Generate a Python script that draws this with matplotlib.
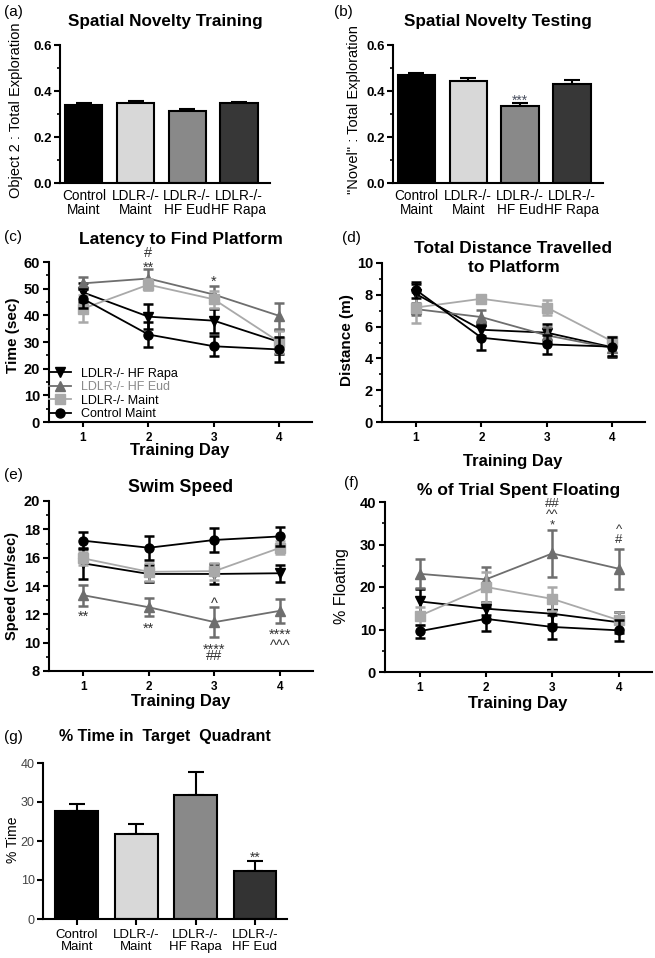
import numpy as np
import matplotlib
matplotlib.use('Agg')
import matplotlib.pyplot as plt
from matplotlib.ticker import MultipleLocator, FormatStrFormatter
from matplotlib.transforms import IdentityTransform

plt.rcParams['font.family'] = ['Liberation Sans', 'DejaVu Sans']

W, H = 655, 958  # размер картинки в пикселях (dpi=100)

# --- данные: (a), (b) ---
groups_ab = ['Control\nMaint', 'LDLR-/-\nMaint', 'LDLR-/-\nHF Eud', 'LDLR-/-\nHF Rapa']
colors_ab = ['#000000', '#d8d8d8', '#898989', '#373737']
train_mean = [0.341, 0.348, 0.315, 0.348]
train_sem = [0.007, 0.007, 0.007, 0.006]
test_mean = [0.470, 0.442, 0.336, 0.432]
test_sem = [0.010, 0.016, 0.011, 0.016]

# --- данные: (c)-(f), порядок серий: Rapa, Eud, Maint, Control ---
days = [1, 2, 3, 4]
series = ['LDLR-/- HF Rapa', 'LDLR-/- HF Eud', 'LDLR-/- Maint', 'Control Maint']
markers = ['v', '^', 's', 'o']
line_colors = ['#000000', '#6e6e6e', '#a9a9a9', '#000000']
legend_text_colors = ['#000000', '#8a8a8a', '#000000', '#000000']

lat_mean = [[48.6, 39.5, 38.0, 30.0], [52.0, 53.8, 47.8, 39.8],
            [42.5, 51.5, 46.0, 30.0], [46.2, 32.8, 28.4, 27.2]]
lat_sem = [[3.5, 4.8, 4.5, 4.5], [2.2, 3.4, 3.2, 4.8],
           [5.0, 2.0, 3.2, 4.0], [3.5, 4.8, 3.8, 4.8]]

dist_mean = [[8.05, 5.8, 5.62, 4.7], [7.1, 6.6, 5.45, 4.65],
             [7.2, 7.75, 7.2, 5.07], [8.3, 5.3, 4.88, 4.74]]
dist_sem = [[0.6, 0.4, 0.55, 0.6], [0.4, 0.45, 0.5, 0.5],
            [1.0, 0.15, 0.5, 0.3], [0.5, 0.8, 0.6, 0.6]]

speed_mean = [[15.6, 14.85, 14.85, 14.9], [13.35, 12.5, 11.45, 12.25],
              [15.95, 15.0, 15.05, 16.7], [17.2, 16.7, 17.25, 17.5]]
speed_sem = [[1.1, 0.6, 0.7, 0.6], [0.75, 0.65, 1.05, 0.85],
             [0.45, 0.65, 0.6, 0.45], [0.6, 0.85, 0.85, 0.65]]

float_mean = [[16.6, 14.9, 13.7, 11.7], [23.1, 21.8, 27.9, 24.3],
              [13.2, 20.0, 17.2, 12.2], [9.6, 12.5, 10.6, 9.8]]
float_sem = [[2.9, 1.6, 2.5, 2.5], [3.4, 2.8, 5.6, 4.7],
             [2.2, 3.5, 2.8, 2.0], [1.5, 2.9, 2.9, 2.5]]

# --- данные: (g) ---
groups_g = ['Control\nMaint', 'LDLR-/-\nMaint', 'LDLR-/-\nHF Rapa', 'LDLR-/-\nHF Eud']
colors_g = ['#000000', '#d8d8d8', '#898989', '#333333']
quad_mean = [27.7, 21.7, 31.7, 12.4]
quad_sem = [1.9, 2.6, 6.0, 2.5]

# значимость: (x, центры знаков по y сверху вниз, строки)
sig_b = [(2, [0.378], ['***'])]
sig_c = [(2, [63.8, 60.0], ['#', '**']), (3, [54.4], ['*'])]
sig_e = [(1, [12.15], ['**']), (2, [11.3], ['**']), (3, [13.0], ['^']),
         (3, [9.86, 9.2], ['****', '##']), (4, [10.9, 10.1], ['****', '^^^'])]
sig_f = [(3, [39.9, 37.7, 35.3], ['##', '^^', '*']), (4, [34.3, 31.2], ['^', '#'])]
sig_g = [(3, [16.9], ['**'])]

fig = plt.figure(figsize=(W / 100, H / 100), dpi=100)


def add_ax(l, t, r, b):
    ax = fig.add_axes([l / W, 1 - b / H, (r - l) / W, (b - t) / H])
    for s in ['top', 'right']:
        ax.spines[s].set_visible(False)
    for s in ['left', 'bottom']:
        ax.spines[s].set_linewidth(1.5)
    return ax


def panel_label(x, y, s):
    fig.text(x / W, 1 - y / H, s, fontsize=11, ha='left', va='center')


def ylab(ax, s, cx, cy, size, weight):
    ax.set_ylabel(s, fontsize=size, fontweight=weight)
    ax.yaxis.set_label_coords((cx + 0.57 * size * 1.39) / W, 1 - cy / H, transform=fig.transFigure)


def xlab(ax, s, cx, top, size=12):
    ax.set_xlabel(s, fontsize=size, fontweight='bold')
    ax.xaxis.set_label_coords(cx / W, 1 - top / H, transform=fig.transFigure)


# середина знака над базовой линией (в долях кегля)
glyph_mid = {'*': 0.58, '^': 0.52, '#': 0.35}


def sig(ax, items, size=10.5, color='#333333'):
    em = size * fig.dpi / 72
    for x, centers, lines in items:
        pts = [ax.transData.transform((x, y)) for y in centers]
        base = [p[1] - glyph_mid[l[0]] * em for p, l in zip(pts, lines)]
        ls = 1.2
        if len(lines) > 1:
            step = (base[0] - base[-1]) / (len(lines) - 1)
            ls = (step / em - 0.21) / 0.72
        ax.text(pts[0][0], base[0] + 0.72 * em, '\n'.join(lines), transform=IdentityTransform(),
                fontsize=size, ha='center', va='top', linespacing=ls, color=color, clip_on=False)


def bar_panel(ax, groups, means, sems, colors, xlim, size):
    x = np.arange(len(groups))
    ax.bar(x, means, width=0.72, color=colors, edgecolor='black', linewidth=1.5, zorder=2)
    ax.errorbar(x, means, yerr=[np.zeros(len(sems)), sems], fmt='none', ecolor='black',
                elinewidth=1.5, capsize=5.5, capthick=1.5, zorder=1)
    ax.set_xlim(*xlim)
    ax.set_xticks(x)
    ax.set_xticklabels(groups, fontsize=size, linespacing=1.0)


def line_panel(ax, means, sems, ylim, major, minor):
    lines = []
    for i in range(4):
        c = ax.errorbar(days, means[i], yerr=sems[i], marker=markers[i], color=line_colors[i],
                        ms=6.5, lw=1.3, elinewidth=1.8, capsize=3.5, capthick=1.8,
                        zorder=3 + i, clip_on=False)
        lines.append(c.lines[0])
    ax.set_xlim(0.48, 4.5)
    ax.set_ylim(*ylim)
    ax.set_xticks(days)
    ax.yaxis.set_major_locator(MultipleLocator(major))
    ax.yaxis.set_minor_locator(MultipleLocator(minor))
    ax.tick_params(axis='y', which='major', length=4.5, width=1.5, pad=2, labelsize=10.5)
    ax.tick_params(axis='y', which='minor', length=2.5, width=1.2)
    ax.tick_params(axis='x', length=3.5, width=1.5, pad=4, labelsize=8.5)
    for lab in ax.get_xticklabels() + ax.get_yticklabels():
        lab.set_fontweight('bold')
    return lines


def ratio_axis(ax):
    ax.set_ylim(0, 0.6)
    ax.yaxis.set_major_locator(MultipleLocator(0.2))
    ax.yaxis.set_minor_locator(MultipleLocator(0.1))
    ax.yaxis.set_major_formatter(FormatStrFormatter('%.1f'))
    ax.tick_params(axis='x', length=0, pad=4)
    ax.tick_params(axis='y', which='major', length=4, width=1.5, pad=2, labelsize=9.5)
    ax.tick_params(axis='y', which='minor', length=2.5, width=1.2)
    for lab in ax.get_yticklabels():
        lab.set_fontweight('bold')


# (a) Spatial Novelty Training
ax_a = add_ax(60, 45, 270, 183)
bar_panel(ax_a, groups_ab, train_mean, train_sem, colors_ab, (-0.46, 3.6), 9.8)
ratio_axis(ax_a)
ax_a.set_title('Spatial Novelty Training', fontsize=12.3, fontweight='bold', pad=14)
ylab(ax_a, 'Object 2 : Total Exploration', 15, 110, 10.5, 'normal')
panel_label(4, 12, '(a)')

# (b) Spatial Novelty Testing
ax_b = add_ax(393, 45, 603, 183)
bar_panel(ax_b, groups_ab, test_mean, test_sem, colors_ab, (-0.45, 3.6), 9.8)
ratio_axis(ax_b)
ax_b.set_title('Spatial Novelty Testing', fontsize=12.3, fontweight='bold', pad=14)
ylab(ax_b, '"Novel" : Total Exploration', 353, 110, 10.5, 'normal')
sig(ax_b, sig_b, size=10, color='#4a5060')
panel_label(334, 12, '(b)')

# (c) Latency to Find Platform
ax_c = add_ax(49, 262, 312, 422)
lines_c = line_panel(ax_c, lat_mean, lat_sem, (0, 60), 10, 5)
ax_c.set_title('Latency to Find Platform', fontsize=12.5, fontweight='bold', pad=13)
ylab(ax_c, 'Time (sec)', 11, 335, 11, 'bold')
xlab(ax_c, 'Training Day', 180, 443)
sig(ax_c, sig_c)
leg = ax_c.legend(lines_c, series, loc='lower left',
                  bbox_to_anchor=(-0.02, -0.02), frameon=False, fontsize=9,
                  handlelength=1.8, handletextpad=0.8, labelspacing=0.12, borderaxespad=0)
for t, c in zip(leg.get_texts(), legend_text_colors):
    t.set_color(c)
panel_label(4, 237, '(c)')

# (d) Total Distance Travelled to Platform
ax_d = add_ax(382, 263, 645, 422)
line_panel(ax_d, dist_mean, dist_sem, (0, 10), 2, 1)
ax_d.text(0.5, 1.031, 'Total Distance Travelled\nto Platform', transform=ax_d.transAxes,
          fontsize=12.5, fontweight='bold', ha='center', va='center', linespacing=1.3)
ylab(ax_d, 'Distance (m)', 345, 340, 11, 'bold')
xlab(ax_d, 'Training Day', 513, 454)
panel_label(342, 238, '(d)')

# (e) Swim Speed
ax_e = add_ax(49, 501, 313, 671)
line_panel(ax_e, speed_mean, speed_sem, (8, 20), 2, 1)
ax_e.set_title('Swim Speed', fontsize=12.8, fontweight='bold', pad=6.5)
ylab(ax_e, 'Speed (cm/sec)', 11, 586, 10.5, 'bold')
xlab(ax_e, 'Training Day', 181, 694)
sig(ax_e, sig_e)
panel_label(4, 475, '(e)')

# (f) % of Trial Spent Floating
ax_f = add_ax(385, 502, 652, 672)
line_panel(ax_f, float_mean, float_sem, (0, 40), 10, 5)
ax_f.set_title('% of Trial Spent Floating', fontsize=12.5, fontweight='bold', pad=5)
ylab(ax_f, '% Floating', 340, 586, 11.5, 'normal')
xlab(ax_f, 'Training Day', 518, 696)
sig(ax_f, sig_f, size=9.5)
panel_label(344, 483, '(f)')

# (g) % Time in Target Quadrant
ax_g = add_ax(43, 763, 287, 919)
bar_panel(ax_g, groups_g, quad_mean, quad_sem, colors_g, (-0.57, 3.54), 9.5)
ax_g.set_ylim(0, 40)
ax_g.yaxis.set_major_locator(MultipleLocator(10))
ax_g.tick_params(axis='x', length=4, width=1.5, pad=3)
ax_g.tick_params(axis='y', length=4, width=1.5, pad=2, labelsize=9, labelcolor='#444444')
ax_g.set_title('% Time in  Target  Quadrant', fontsize=11.5, fontweight='bold', pad=16)
ylab(ax_g, '% Time', 12, 840, 10, 'normal')
sig(ax_g, sig_g, size=10)
panel_label(4, 737, '(g)')

fig.savefig('out.png', dpi=100)
